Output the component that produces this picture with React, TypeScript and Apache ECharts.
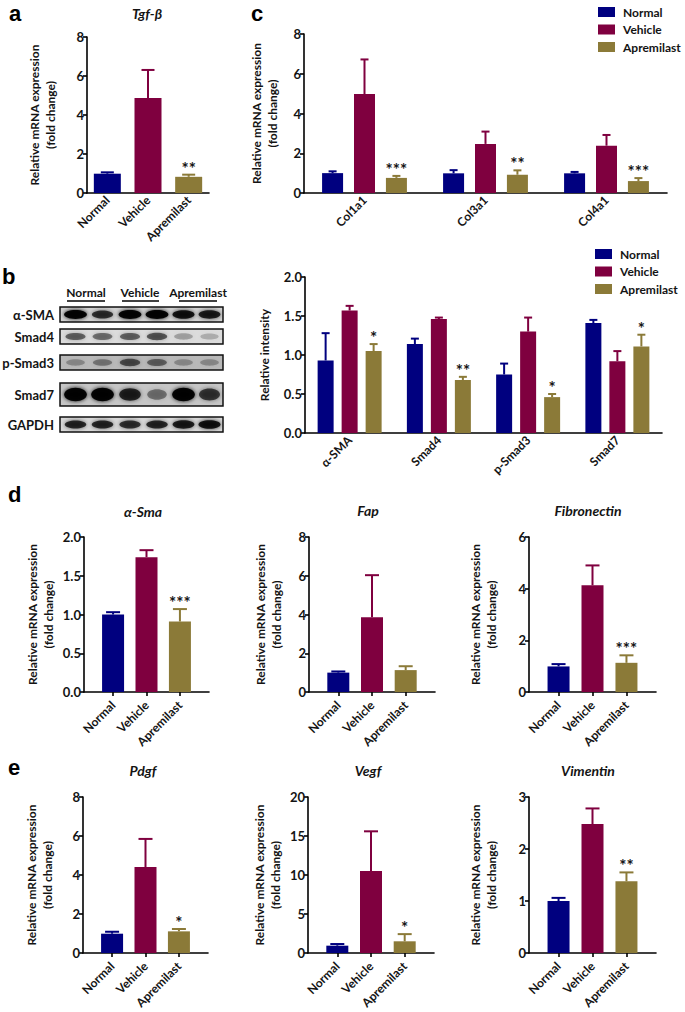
import React, { useEffect, useRef } from "react";
import * as echarts from "echarts";

const GROUPS = ["Normal", "Vehicle", "Apremilast"];
const COLORS = ["#00007f", "#7f003f", "#8b7a38"];
const FONT = "Lato, 'Open Sans', sans-serif";
const TXT = "#141414";

// Panel a — Tgf-β
const tgfMean = [0.99, 4.87, 0.83];
const tgfErr = [1.06, 6.31, 0.94];
const tgfSig = ["", "", "**"];

// Panel c — collagens
const colGenes = ["Col1a1", "Col3a1", "Col4a1"];
const colNormal = [1.0, 0.99, 0.99];
const colNormalErr = [1.09, 1.15, 1.06];
const colVehicle = [4.98, 2.47, 2.38];
const colVehicleErr = [6.72, 3.09, 2.92];
const colApre = [0.76, 0.92, 0.6];
const colApreErr = [0.86, 1.14, 0.75];
const colSig = ["***", "**", "***"];

// Panel b — western blot quantification
const proteins = ["α-SMA", "Smad4", "p-Smad3", "Smad7"];
const protNormal = [0.93, 1.14, 0.75, 1.41];
const protNormalErr = [1.28, 1.21, 0.89, 1.45];
const protVehicle = [1.57, 1.46, 1.3, 0.92];
const protVehicleErr = [1.63, 1.48, 1.48, 1.05];
const protApre = [1.05, 0.68, 0.46, 1.11];
const protApreErr = [1.14, 0.72, 0.5, 1.26];
const protSig = ["*", "**", "*", "*"];

// Blot
const blotRows = ["α-SMA", "Smad4", "p-Smad3", "Smad7", "GAPDH"];
const blotIntensity = [
  [0.95, 0.7, 0.95, 0.95, 0.85, 0.8],
  [0.5, 0.45, 0.5, 0.55, 0.25, 0.2],
  [0.25, 0.35, 0.55, 0.45, 0.25, 0.25],
  [0.95, 0.95, 0.75, 0.4, 0.95, 0.65],
  [0.75, 0.75, 0.7, 0.75, 0.8, 0.85],
];

// Panel d
const aSmaMean = [1.0, 1.74, 0.91];
const aSmaErr = [1.03, 1.83, 1.07];
const aSmaSig = ["", "", "***"];
const fapMean = [1.0, 3.86, 1.13];
const fapErr = [1.06, 6.03, 1.33];
const fapSig = ["", "", ""];
const fibMean = [0.99, 4.13, 1.13];
const fibErr = [1.08, 4.9, 1.42];
const fibSig = ["", "", "***"];

// Panel e
const pdgfMean = [0.99, 4.41, 1.11];
const pdgfErr = [1.09, 5.85, 1.23];
const pdgfSig = ["", "", "*"];
const vegfMean = [0.94, 10.5, 1.5];
const vegfErr = [1.15, 15.6, 2.42];
const vegfSig = ["", "", "*"];
const vimMean = [1.0, 2.48, 1.38];
const vimErr = [1.06, 2.78, 1.55];
const vimSig = ["", "", "**"];

const LINE = { color: "#000", width: 1.6 };

function yAxis(gi: number, max: number, interval: number, dec: number, name: string, nameGap: number) {
  return {
    type: "value", gridIndex: gi, min: 0, max, interval,
    splitLine: { show: false },
    axisLine: { show: true, onZero: false, lineStyle: LINE },
    axisTick: { show: true, length: 4, lineStyle: LINE },
    axisLabel: { margin: 3, fontSize: 13, fontWeight: "bold", fontFamily: FONT, color: TXT, formatter: (v: number) => v.toFixed(dec) },
    name, nameLocation: "middle", nameGap, nameRotate: 90,
    nameTextStyle: { fontSize: 12, fontWeight: "bold", fontFamily: FONT, color: TXT, lineHeight: 16 },
  };
}

function xCat(gi: number, data: string[]) {
  return {
    type: "category", gridIndex: gi, data,
    axisLine: { onZero: false, lineStyle: LINE },
    axisTick: { alignWithLabel: true, length: 4, lineStyle: LINE },
    axisLabel: { rotate: 45, interval: 0, margin: 5, fontSize: 12, fontWeight: "bold", fontFamily: FONT, color: TXT },
  };
}

function xVal(gi: number) {
  return {
    type: "value", gridIndex: gi, min: -0.87, max: 2.87,
    splitLine: { show: false },
    axisLine: { show: true, onZero: false, lineStyle: LINE },
    axisTick: { show: true, customValues: [0, 1, 2], length: 4, lineStyle: LINE },
    axisLabel: {
      customValues: [0, 1, 2], formatter: (v: number) => GROUPS[Math.round(v)] || "",
      rotate: 45, margin: 11, fontSize: 12, fontWeight: "bold", fontFamily: FONT, color: TXT,
    },
  };
}

function errorSeries(ai: number, xs: (string | number)[], means: number[], errs: number[], colors: string[], sigs: string[], offset: number, cap: number) {
  return {
    type: "custom", name: "err", xAxisIndex: ai, yAxisIndex: ai, z: 5,
    data: means.map((m, i) => [xs[i], m, errs[i]]),
    encode: { x: 0, y: [1, 2] },
    renderItem: (params: any, api: any) => {
      const i = params.dataIndex;
      const p0 = api.coord([api.value(0), api.value(1)]);
      const p1 = api.coord([api.value(0), api.value(2)]);
      const cx = p0[0] + offset;
      const color = colors[i];
      const children: any[] = [
        { type: "line", shape: { x1: cx, y1: p0[1], x2: cx, y2: p1[1] }, style: { stroke: color, lineWidth: 2 } },
        { type: "line", shape: { x1: cx - cap, y1: p1[1], x2: cx + cap, y2: p1[1] }, style: { stroke: color, lineWidth: 2 } },
      ];
      if (sigs[i]) {
        children.push({
          type: "text", x: cx, y: p1[1] + 2,
          style: { text: sigs[i], align: "center", verticalAlign: "bottom", fontSize: 17, fontWeight: "bold", fontFamily: FONT, fill: TXT },
        });
      }
      return { type: "group", children };
    },
  };
}

function buildOption() {
  const grids = [
    { left: 87, top: 37, width: 122, height: 156 },
    { left: 304, top: 34, width: 363, height: 159 },
    { left: 305, top: 277, width: 357, height: 156 },
    { left: 84, top: 537, width: 125, height: 155 },
    { left: 309, top: 537, width: 126, height: 155 },
    { left: 529, top: 537, width: 127, height: 155 },
    { left: 83, top: 797, width: 125, height: 156 },
    { left: 308, top: 797, width: 126, height: 156 },
    { left: 529, top: 797, width: 127, height: 156 },
  ];
  const mrna = "Relative mRNA expression\n(fold change)";
  const xAxes: any[] = [
    xCat(0, GROUPS), xCat(1, colGenes), xCat(2, proteins),
    xVal(3), xVal(4), xVal(5), xVal(6), xVal(7), xVal(8),
  ];
  const yAxes: any[] = [
    yAxis(0, 8, 2, 0, mrna, 29),
    yAxis(1, 8, 2, 0, mrna, 24),
    yAxis(2, 2, 0.5, 1, "Relative intensity", 28),
    yAxis(3, 2, 0.5, 1, mrna, 28),
    yAxis(4, 8, 2, 0, mrna, 25),
    yAxis(5, 6, 2, 0, mrna, 30),
    yAxis(6, 8, 2, 0, mrna, 28),
    yAxis(7, 20, 5, 0, mrna, 25),
    yAxis(8, 3, 1, 0, mrna, 30),
  ];
  const series: any[] = [];

  // panel a
  series.push({
    type: "bar", name: "tgf", xAxisIndex: 0, yAxisIndex: 0, barWidth: 27,
    data: tgfMean.map((v, i) => ({ value: v, itemStyle: { color: COLORS[i] } })),
  });
  series.push(errorSeries(0, GROUPS, tgfMean, tgfErr, COLORS, tgfSig, 0, 6.5));

  // grouped panels c and b
  const grouped = [
    { ai: 1, cats: colGenes, means: [colNormal, colVehicle, colApre], errs: [colNormalErr, colVehicleErr, colApreErr], sig: colSig, w: 21, gap: 0.52, cap: 4 },
    { ai: 2, cats: proteins, means: [protNormal, protVehicle, protApre], errs: [protNormalErr, protVehicleErr, protApreErr], sig: protSig, w: 16, gap: 0.5, cap: 4 },
  ];
  grouped.forEach((g) => {
    for (let k = 0; k < 3; k++) {
      series.push({
        type: "bar", name: GROUPS[k], xAxisIndex: g.ai, yAxisIndex: g.ai,
        barWidth: g.w, barGap: `${g.gap * 100}%`, itemStyle: { color: COLORS[k] },
        data: g.means[k],
      });
    }
    for (let k = 0; k < 3; k++) {
      const offset = (k - 1) * g.w * (1 + g.gap);
      series.push(errorSeries(g.ai, g.cats, g.means[k], g.errs[k], g.cats.map(() => COLORS[k]), k === 2 ? g.sig : g.cats.map(() => ""), offset, g.cap));
    }
  });

  // panels d and e
  const singles = [
    { ai: 3, m: aSmaMean, e: aSmaErr, s: aSmaSig },
    { ai: 4, m: fapMean, e: fapErr, s: fapSig },
    { ai: 5, m: fibMean, e: fibErr, s: fibSig },
    { ai: 6, m: pdgfMean, e: pdgfErr, s: pdgfSig },
    { ai: 7, m: vegfMean, e: vegfErr, s: vegfSig },
    { ai: 8, m: vimMean, e: vimErr, s: vimSig },
  ];
  singles.forEach((p) => {
    series.push({
      type: "bar", name: "single" + p.ai, xAxisIndex: p.ai, yAxisIndex: p.ai, barWidth: 22,
      data: p.m.map((v, i) => ({ value: [i, v], itemStyle: { color: COLORS[i] } })),
    });
    series.push(errorSeries(p.ai, [0, 1, 2], p.m, p.e, COLORS, p.s, 0, 7));
  });

  // graphics: letters, titles, blot
  const graphic: any[] = [];
  const letter = (t: string, x: number, y: number) =>
    graphic.push({ type: "text", x, y, style: { text: t, font: "bold 22px 'Liberation Sans', Arial, sans-serif", fill: "#000", verticalAlign: "bottom" } });
  letter("a", 9, 24);
  letter("c", 251, 24);
  letter("b", 2, 287);
  letter("d", 8, 505);
  letter("e", 8, 778);

  const title = (t: string, x: number, y: number) =>
    graphic.push({ type: "text", x, y, style: { text: t, fontSize: 14, fontWeight: "bold", fontStyle: "italic", fontFamily: FONT, fill: TXT, align: "center", verticalAlign: "middle" } });
  title("Tgf-β", 147, 13);
  title("α-Sma", 143, 511);
  title("Fap", 368, 510);
  title("Fibronectin", 588, 510);
  title("Pdgf", 143, 770);
  title("Vegf", 368, 770);
  title("Vimentin", 588, 770);

  // blot
  const rowY = [307, 329, 355, 383, 417];
  const rowH = [15, 15, 15, 23, 15];
  const rowBg = ["#d2d2d2", "#dcdcdc", "#b9b9b9", "#c6c6c6", "#d8d8d8"];
  const lanes = [75.5, 102.5, 130, 157, 183.5, 209.5];
  blotRows.forEach((name, r) => {
    graphic.push({ type: "rect", shape: { x: 60, y: rowY[r], width: 163, height: rowH[r] }, style: { fill: rowBg[r], stroke: "#111", lineWidth: 1.5 } });
    lanes.forEach((cx, l) => {
      const a = blotIntensity[r][l];
      graphic.push({
        type: "ellipse",
        shape: { cx, cy: rowY[r] + rowH[r] / 2, rx: 11.5 * (0.75 + 0.25 * a), ry: rowH[r] * 0.3 * (0.6 + 0.4 * a) },
        style: { fill: `rgba(0,0,0,${a})`, shadowBlur: 4, shadowColor: `rgba(0,0,0,${a})` },
      });
    });
    graphic.push({ type: "text", x: 54, y: rowY[r] + rowH[r] / 2, style: { text: name, align: "right", verticalAlign: "middle", fontSize: 13, fontWeight: "bold", fontFamily: FONT, fill: TXT } });
  });
  const heads = [
    { t: "Normal", cx: 86, x1: 67, x2: 105 },
    { t: "Vehicle", cx: 140, x1: 122, x2: 159 },
    { t: "Apremilast", cx: 198, x1: 179, x2: 217 },
  ];
  heads.forEach((h) => {
    graphic.push({ type: "text", x: h.cx, y: 292, style: { text: h.t, align: "center", verticalAlign: "middle", fontSize: 12, fontWeight: "bold", fontFamily: FONT, fill: TXT } });
    graphic.push({ type: "line", shape: { x1: h.x1, y1: 301, x2: h.x2, y2: 301 }, style: { stroke: "#000", lineWidth: 1.6 } });
  });

  const legendBase = {
    data: GROUPS, orient: "vertical", icon: "rect", itemWidth: 17, itemHeight: 10, itemGap: 5.5,
    selectedMode: false,
    textStyle: { fontSize: 12, fontWeight: "bold", fontFamily: FONT, color: TXT, padding: [0, 0, 0, 3] },
  };

  return {
    animation: false,
    backgroundColor: "#fff",
    grid: grids,
    xAxis: xAxes,
    yAxis: yAxes,
    legend: [
      { ...legendBase, left: 593, top: 1 },
      { ...legendBase, left: 590, top: 243 },
    ],
    series,
    graphic,
  };
}

export default function App() {
  const ref = useRef<HTMLDivElement>(null);
  useEffect(() => {
    const chart = echarts.init(ref.current!, null, { renderer: "svg" });
    chart.setOption(buildOption() as any);
    return () => chart.dispose();
  }, []);
  return <div ref={ref} style={{ position: "absolute", left: 0, top: 0, width: 685, height: 1012, background: "#fff" }} />;
}
